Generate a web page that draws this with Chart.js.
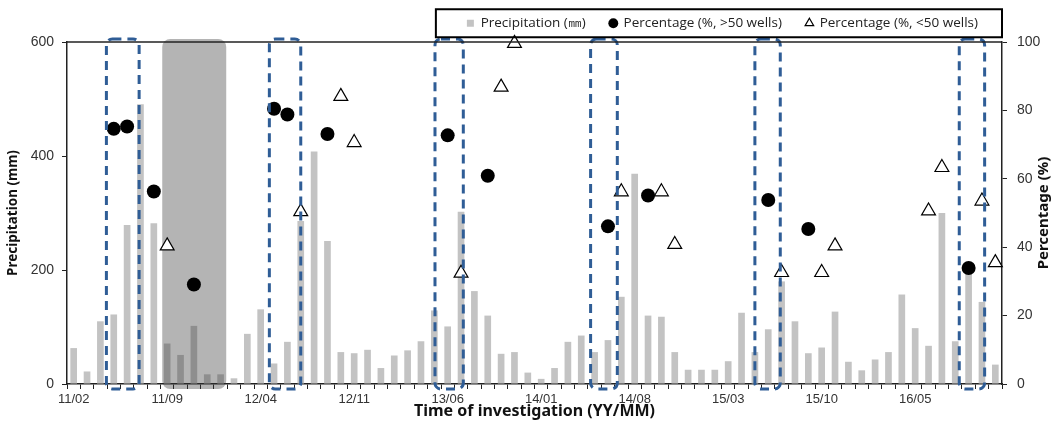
<!DOCTYPE html>
<html>
<head>
<meta charset="utf-8">
<script src="https://cdn.jsdelivr.net/npm/chart.js@4.4.1/dist/chart.umd.min.js"></script>
<style>
  html, body { margin: 0; padding: 0; background: #fff; }
  #wrap { width: 1056px; height: 423px; }
</style>
</head>
<body>
<div id="wrap"><canvas id="chart" width="1056" height="423"></canvas></div>
<script>
// --- data ---
// monthly categories 11/02 .. 16/11
const months = [];
for (let i = 0; i < 70; i++) {
  const m = 1 + i;
  const yy = 11 + Math.floor(m / 12);
  const mm = (m % 12) + 1;
  months.push(yy + '/' + String(mm).padStart(2, '0'));
}

const precipitation = [
  63, 22, 110, 122, 279, 491, 282, 71, 51, 102, 17, 17,
  10, 88, 131, 36, 74, 286, 408, 251, 56, 54, 60, 28,
  50, 59, 75, 129, 101, 302, 163, 120, 53, 56, 20, 9,
  28, 74, 85, 56, 77, 153, 369, 120, 118, 56, 25, 25,
  25, 40, 125, 56, 96, 180, 110, 54, 64, 127, 39, 24,
  43, 56, 157, 98, 67, 300, 75, 205, 144, 34
];

const over50Months = ['11/05', '11/06', '11/08', '11/11', '12/05', '12/06', '12/09',
  '13/06', '13/09', '14/06', '14/09', '15/06', '15/09', '16/09'];
const over50Pct = [74.6, 75.3, 56.3, 29.1, 80.5, 78.8, 73.1,
  72.7, 60.9, 46.1, 55.1, 53.8, 45.3, 33.9];

const under50Months = ['11/09', '12/07', '12/10', '12/11', '13/07', '13/10', '13/11',
  '14/07', '14/10', '14/11', '15/07', '15/10', '15/11', '16/06', '16/07', '16/10', '16/11'];
const under50Pct = [40.4, 50.4, 84.1, 70.6, 32.4, 86.8, 99.6,
  56.2, 56.2, 40.8, 32.6, 32.6, 40.4, 50.6, 63.3, 53.5, 35.5];

// survey windows (dashed boxes) and shaded period, in category units
const surveyWindows = [[2.45, 4.9], [14.65, 17.0], [27.05, 29.17], [38.7, 40.7], [51.0, 52.9], [66.3, 68.2]];
const shadedPeriod = [6.63, 11.42];

const tickEvery = 7;
const rightTitle = 'Percentage (%)';

function roundRect(ctx, x0, y0, x1, y1, r) {
  ctx.beginPath();
  ctx.moveTo(x0 + r, y0);
  ctx.lineTo(x1 - r, y0);
  ctx.arcTo(x1, y0, x1, y0 + r, r);
  ctx.lineTo(x1, y1 - r);
  ctx.arcTo(x1, y1, x1 - r, y1, r);
  ctx.lineTo(x0 + r, y1);
  ctx.arcTo(x0, y1, x0, y1 - r, r);
  ctx.lineTo(x0, y0 + r);
  ctx.arcTo(x0, y0, x0 + r, y0, r);
  ctx.closePath();
}

const overlays = {
  id: 'overlays',
  afterLayout(chart) {
    // lift the legend row (only the top, so the clip box stays tall enough)
    chart.legend.top -= 16.5;
  },
  afterDatasetDraw(chart, args) {
    if (args.index !== 0) return;
    const ctx = chart.ctx, xs = chart.scales.x, a = chart.chartArea;
    ctx.save();
    ctx.fillStyle = 'rgba(55,55,55,0.375)';
    roundRect(ctx, xs.getPixelForValue(shadedPeriod[0]), a.top - 3,
      xs.getPixelForValue(shadedPeriod[1]), a.bottom + 5, 8);
    ctx.fill();
    ctx.restore();
  },
  afterDatasetsDraw(chart) {
    const ctx = chart.ctx, xs = chart.scales.x, a = chart.chartArea;
    ctx.save();
    ctx.strokeStyle = '#2f5d96';
    ctx.lineWidth = 3;
    ctx.setLineDash([9, 6]);
    surveyWindows.forEach(w => {
      roundRect(ctx, xs.getPixelForValue(w[0]), a.top - 3, xs.getPixelForValue(w[1]), a.bottom + 5, 6);
      ctx.stroke();
    });
    ctx.restore();
  },
  afterDraw(chart) {
    const ctx = chart.ctx, a = chart.chartArea, lg = chart.legend;
    ctx.save();
    // frame top line
    ctx.strokeStyle = '#222';
    ctx.lineWidth = 1.5;
    ctx.beginPath();
    ctx.moveTo(a.left, a.top);
    ctx.lineTo(a.right, a.top);
    ctx.stroke();
    // legend border
    const hb = lg.legendHitBoxes;
    const cy = hb[0].top + hb[0].height / 2;
    ctx.lineWidth = 2;
    ctx.strokeStyle = '#000';
    const bx = hb[0].left - 31;
    ctx.strokeRect(bx, cy - 14, a.right - bx, 28);
    // right axis title, reading bottom to top like the left one
    ctx.translate(1044, (a.top + a.bottom) / 2);
    ctx.rotate(-Math.PI / 2);
    ctx.fillStyle = '#111';
    ctx.font = 'bold 15px "Noto Sans", "Open Sans", sans-serif';
    ctx.textAlign = 'center';
    ctx.textBaseline = 'middle';
    ctx.fillText(rightTitle, 0, 0);
    ctx.restore();
  }
};

const tickFont = { family: '"Liberation Sans", Arial, sans-serif', size: 14 };

new Chart(document.getElementById('chart'), {
  type: 'bar',
  data: {
    labels: months,
    datasets: [
      {
        label: 'Precipitation (㎜)',
        data: precipitation,
        backgroundColor: '#c3c3c3',
        pointStyle: 'rect',
        barPercentage: 0.5,
        categoryPercentage: 1.0,
        yAxisID: 'y',
        order: 3
      },
      {
        type: 'line',
        label: 'Percentage (%, >50 wells)',
        data: over50Months.map((m, i) => ({ x: m, y: over50Pct[i] })),
        showLine: false,
        pointStyle: 'circle',
        pointRadius: 7,
        backgroundColor: '#000',
        borderColor: '#000',
        borderWidth: 0,
        yAxisID: 'y1',
        clip: false,
        order: 1
      },
      {
        type: 'line',
        label: 'Percentage (%, <50 wells)',
        data: under50Months.map((m, i) => ({ x: m, y: under50Pct[i] })),
        showLine: false,
        pointStyle: 'triangle',
        pointRadius: 8,
        backgroundColor: '#fff',
        borderColor: '#000',
        borderWidth: 1.2,
        yAxisID: 'y1',
        clip: false,
        order: 2
      }
    ]
  },
  options: {
    responsive: false,
    animation: false,
    events: [],
    layout: { padding: { top: 9, left: 0, right: 0, bottom: 0 } },
    plugins: {
      tooltip: { enabled: false },
      legend: {
        position: 'top',
        align: 'end',
        fullSize: false,
        maxHeight: 33,
        labels: {
          usePointStyle: true,
          boxWidth: 7,
          boxHeight: 7,
          padding: 24,
          color: '#222',
          font: { family: '"Open Sans", "Noto Sans", sans-serif', size: 13.5 },
          sort: (a, b) => a.datasetIndex - b.datasetIndex
        }
      }
    },
    scales: {
      x: {
        offset: true,
        grid: { offset: true, drawOnChartArea: false, tickLength: 5, color: '#222' },
        border: { color: '#222', width: 1.5 },
        ticks: {
          autoSkip: false,
          maxRotation: 0,
          color: '#333',
          font: { family: '"Liberation Sans", Arial, sans-serif', size: 13 },
          padding: 3,
          callback: (v, i) => (i % tickEvery === 0 ? months[i] : '')
        },
        title: { display: true, text: 'Time of investigation (YY/MM)', color: '#111',
          font: { family: '"Noto Sans", "Open Sans", sans-serif', size: 16, weight: 'bold' }, padding: { top: 0, bottom: 2 } },
        afterFit: s => { s.height = 39; }
      },
      y: {
        position: 'left',
        min: 0, max: 600,
        ticks: { stepSize: 200, color: '#333', font: tickFont, padding: 8 },
        grid: { drawOnChartArea: false, tickLength: 5, color: '#222' },
        border: { color: '#222', width: 1.5 },
        title: { display: true, text: 'Precipitation (mm)', color: '#111',
          font: { family: '"Noto Sans", "Open Sans", sans-serif', size: 13.5, weight: 'bold' }, padding: { top: 5, bottom: 4 } },
        afterFit: s => { s.width = 67; }
      },
      y1: {
        position: 'right',
        min: 0, max: 100,
        ticks: { stepSize: 20, color: '#333', font: tickFont, padding: 10 },
        grid: { drawOnChartArea: false, tickLength: 5, color: '#222' },
        border: { color: '#222', width: 1.5 },
        title: { display: false },
        afterFit: s => { s.width = 54; }
      }
    }
  },
  plugins: [overlays]
});
</script>
</body>
</html>
